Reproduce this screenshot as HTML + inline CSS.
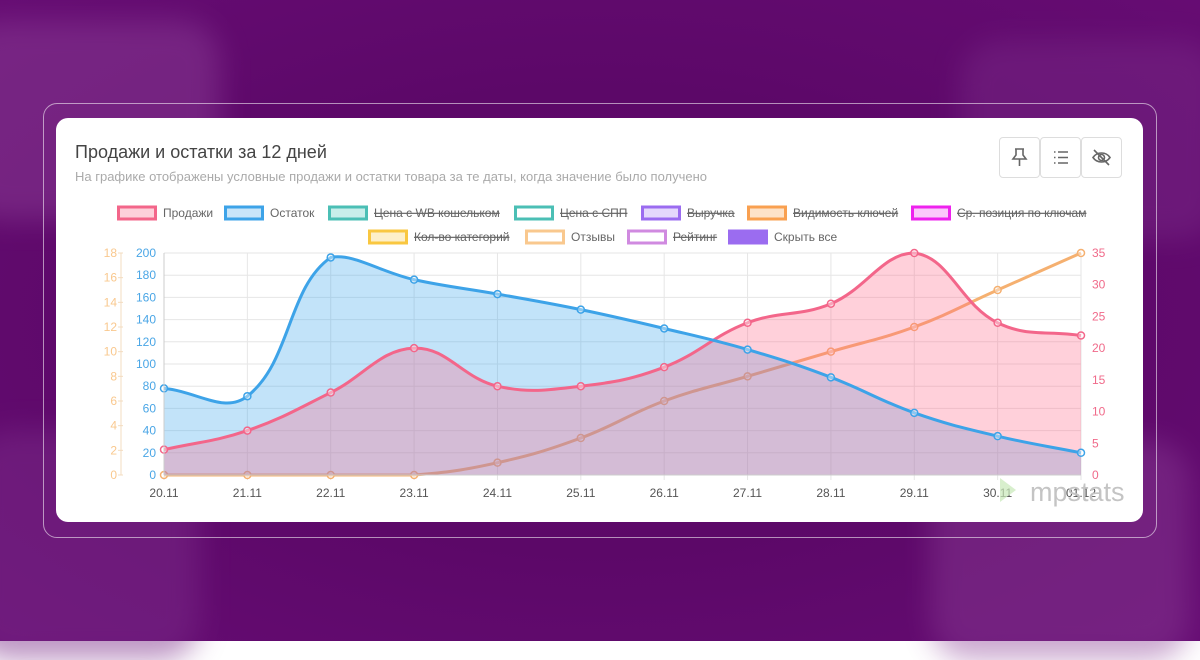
<!DOCTYPE html>
<html><head><meta charset="utf-8">
<style>
html,body{margin:0;padding:0;width:1200px;height:641px;overflow:hidden;font-family:"Liberation Sans","Noto Sans CJK SC",sans-serif;}
#bg{position:absolute;left:0;top:0;width:1200px;height:641px;background:radial-gradient(ellipse at 50% 50%,#650a70 0%,#5c0868 50%,#660c73 100%);}
.blob{position:absolute;border-radius:40px;filter:blur(14px);}
#outer{position:absolute;left:43px;top:103px;width:1112px;height:433px;border:1.5px solid rgba(255,255,255,0.55);border-radius:14px;}
#card{position:absolute;left:56px;top:118px;width:1087px;height:404px;background:#fff;border-radius:12px;}
.btn{position:absolute;top:137px;width:39px;height:39px;border:1px solid #ddd;border-radius:4px;background:#fff;}
svg{position:absolute;left:0;top:0;}
</style></head><body>
<div id="bg"></div>
<div class="blob" style="left:-40px;top:20px;width:260px;height:200px;background:#8a3d95;opacity:.5"></div>
<div class="blob" style="left:-30px;top:430px;width:230px;height:230px;background:#7a2b88;opacity:.5"></div>
<div class="blob" style="left:930px;top:440px;width:260px;height:220px;background:#8a3d95;opacity:.45"></div>
<div class="blob" style="left:960px;top:40px;width:260px;height:200px;background:#7a2b88;opacity:.45"></div>
<div id="outer"></div>
<div id="card"></div>
<div class="btn" style="left:999px"><svg width="39" height="39" viewBox="0 0 39 39"><path d="M15 11h9M16 11v6l-3 4h13l-3-4v-6M19.5 21v7" fill="none" stroke="#666" stroke-width="1.6"/></svg></div>
<div class="btn" style="left:1040px"><svg width="39" height="39" viewBox="0 0 39 39"><g stroke="#666" stroke-width="1.6"><path d="M13 14h1.5M13 19.5h1.5M13 25h1.5M17 14h10M17 19.5h10M17 25h10"/></g></svg></div>
<div class="btn" style="left:1081px"><svg width="39" height="39" viewBox="0 0 39 39"><g fill="none" stroke="#666" stroke-width="1.6"><path d="M11 19.5c4-6 13-6 17 0c-4 6-13 6-17 0z"/><circle cx="19.5" cy="19.5" r="3"/><path d="M12 12l15 15"/></g></svg></div>
<svg id="chart" width="1200" height="641">
<text x="75" y="158" font-size="18" fill="#444">Продажи и остатки за 12 дней</text>
<text x="75" y="181" font-size="13" fill="#aaa">На графике отображены условные продажи и остатки товара за те даты, когда значение было получено</text>
<g id="legend"></g>
<g id="grid"></g>
<g id="series"></g>
<g id="axes"></g>
<text x="1030" y="501" font-size="27" fill="#c4c4c4">mpstats</text>
<path d="M1000 478l16 12-16 12z" fill="#c8e8b8" opacity=".7"/>
</svg>
<script>
const categories=["20.11","21.11","22.11","23.11","24.11","25.11","26.11","27.11","28.11","29.11","30.11","01.12"];
const stock=[78,71,196,176,163,149,132,113,88,56,35,20];
const sales=[4,7,13,20,14,14,17,24,27,35,24,22];
const reviews=[0,0,0,0,1,3,6,8,10,12,15,18];
const stockTicks=[0,20,40,60,80,100,120,140,160,180,200];
const reviewTicks=[0,2,4,6,8,10,12,14,16,18];
const salesTicks=[0,5,10,15,20,25,30,35];
const NS="http://www.w3.org/2000/svg";
const X0=164,X1=1081,Y0=475,Y1=253;
const xs=i=>X0+(X1-X0)*i/(categories.length-1);
const yStock=v=>Y0-(Y0-Y1)*v/200;
const ySales=v=>Y0-(Y0-Y1)*v/35;
const yRev=v=>Y0-(Y0-Y1)*v/18;
function mk(tag,attrs,parent){const e=document.createElementNS(NS,tag);for(const k in attrs)e.setAttribute(k,attrs[k]);parent.appendChild(e);return e;}
const grid=document.getElementById('grid'),axes=document.getElementById('axes'),ser=document.getElementById('series'),leg=document.getElementById('legend');
stockTicks.forEach(t=>{const l=mk('line',{x1:X0,x2:X1,y1:yStock(t),y2:yStock(t),stroke:'#e6e6e6','stroke-width':1},grid);

});
categories.forEach((c,i)=>{const l=mk('line',{x1:xs(i),x2:xs(i),y1:Y1,y2:Y0+5,stroke:'#e6e6e6'},grid);


const t=mk('text',{x:xs(i),y:Y0+22,'font-size':12,fill:'#555','text-anchor':'middle'},axes);t.textContent=c;

});
mk('line',{x1:X0,x2:X0,y1:Y1,y2:Y0,stroke:'#ccc'},axes);
mk('line',{x1:X0,x2:X1,y1:Y0,y2:Y0,stroke:'#ccc'},axes);
mk('line',{x1:121,x2:121,y1:Y1,y2:Y0,stroke:'#f3dcc0'},axes);
stockTicks.forEach(t=>{const e=mk('text',{x:156,y:yStock(t)+4,'font-size':12,fill:'#4aa6e6','text-anchor':'end'},axes);e.textContent=t;

});
reviewTicks.forEach(t=>{const e=mk('text',{x:117,y:yRev(t)+4,'font-size':12,fill:'#f9c88e','text-anchor':'end'},axes);e.textContent=t;


mk('line',{x1:118,x2:123,y1:yRev(t),y2:yRev(t),stroke:'#f3dcc0'},axes);});
salesTicks.forEach(t=>{const e=mk('text',{x:1092,y:ySales(t)+4,'font-size':12,fill:'#f06a8a'},axes);e.textContent=t;

});
function smooth(vals,fy){const p=vals.map((v,i)=>[xs(i),fy(v)]);const T=0.4;const cps=[];
for(let i=0;i<p.length;i++){const a=p[i-1]||p[i],b=p[i],c=p[i+1]||p[i];
const d01=Math.hypot(b[0]-a[0],b[1]-a[1]),d12=Math.hypot(c[0]-b[0],c[1]-b[1]);
let s01=d01/(d01+d12||1),s12=d12/(d01+d12||1);const fa=T*s01,fb=T*s12;
let pc=[b[0]-fa*(c[0]-a[0]),b[1]-fa*(c[1]-a[1])],nc=[b[0]+fb*(c[0]-a[0]),b[1]+fb*(c[1]-a[1])];
pc[1]=Math.min(Math.max(pc[1],Y1),Y0);nc[1]=Math.min(Math.max(nc[1],Y1),Y0);cps.push([pc,nc]);}
let d=`M${p[0][0]},${p[0][1]}`;
for(let i=0;i<p.length-1;i++){d+=` C${cps[i][1][0]},${cps[i][1][1]} ${cps[i+1][0][0]},${cps[i+1][0][1]} ${p[i+1][0]},${p[i+1][1]}`;}return d;}
function area(vals,fy,fill,name){const a=mk('path',{d:smooth(vals,fy)+` L${X1},${Y0} L${X0},${Y0} Z`,fill:fill},ser);

}
function line(vals,fy,stroke,name){const l=mk('path',{d:smooth(vals,fy),fill:'none',stroke:stroke,'stroke-width':3},ser);


vals.forEach((v,i)=>{const c=mk('circle',{cx:xs(i),cy:fy(v),r:3.5,fill:'rgba(255,255,255,0.4)',stroke:stroke,'stroke-width':1.5},ser);

});}
line(reviews,yRev,'#f5b070','reviews');
area(stock,yStock,'rgba(54,162,235,0.3)','stock');
area(sales,ySales,'rgba(255,99,132,0.3)','sales');
line(sales,ySales,'#f3668a','sales');
line(stock,yStock,'#3da3e8','stock');
const items=[["Продажи",117,213,'#f3668a','#fdd0da',0],["Остаток",224,213,'#3da3e8','#c8e5f9',0],["Цена с WB кошельком",328,213,'#4bbfb5','#c8eeea',1],["Цена с СПП",514,213,'#4bbfb5','#fff',1],["Выручка",641,213,'#9b6cf0','#e4d8fc',1],["Видимость ключей",747,213,'#f9a050','#fde2c8',1],["Ср. позиция по ключам",911,213,'#ee22ee','#fbc8fb',1],["Кол-во категорий",368,237,'#f9c740','#fdefc8',1],["Отзывы",525,237,'#f9c88e','#fff',0],["Рейтинг",627,237,'#d08ae0','#fff',1],["Скрыть все",728,237,'#9b6cf0','#9b6cf0',0]];
items.forEach(it=>{const g=mk('g',{},leg);


mk('rect',{x:it[1]+1.5,y:it[2]-6,width:37,height:12,fill:it[4],stroke:it[3],'stroke-width':3},g);
const t=mk('text',{x:it[1]+46,y:it[2]+4,'font-size':12,fill:'#666','text-decoration':it[5]?'line-through':'none'},g);t.textContent=it[0];});
</script>
</body></html>
